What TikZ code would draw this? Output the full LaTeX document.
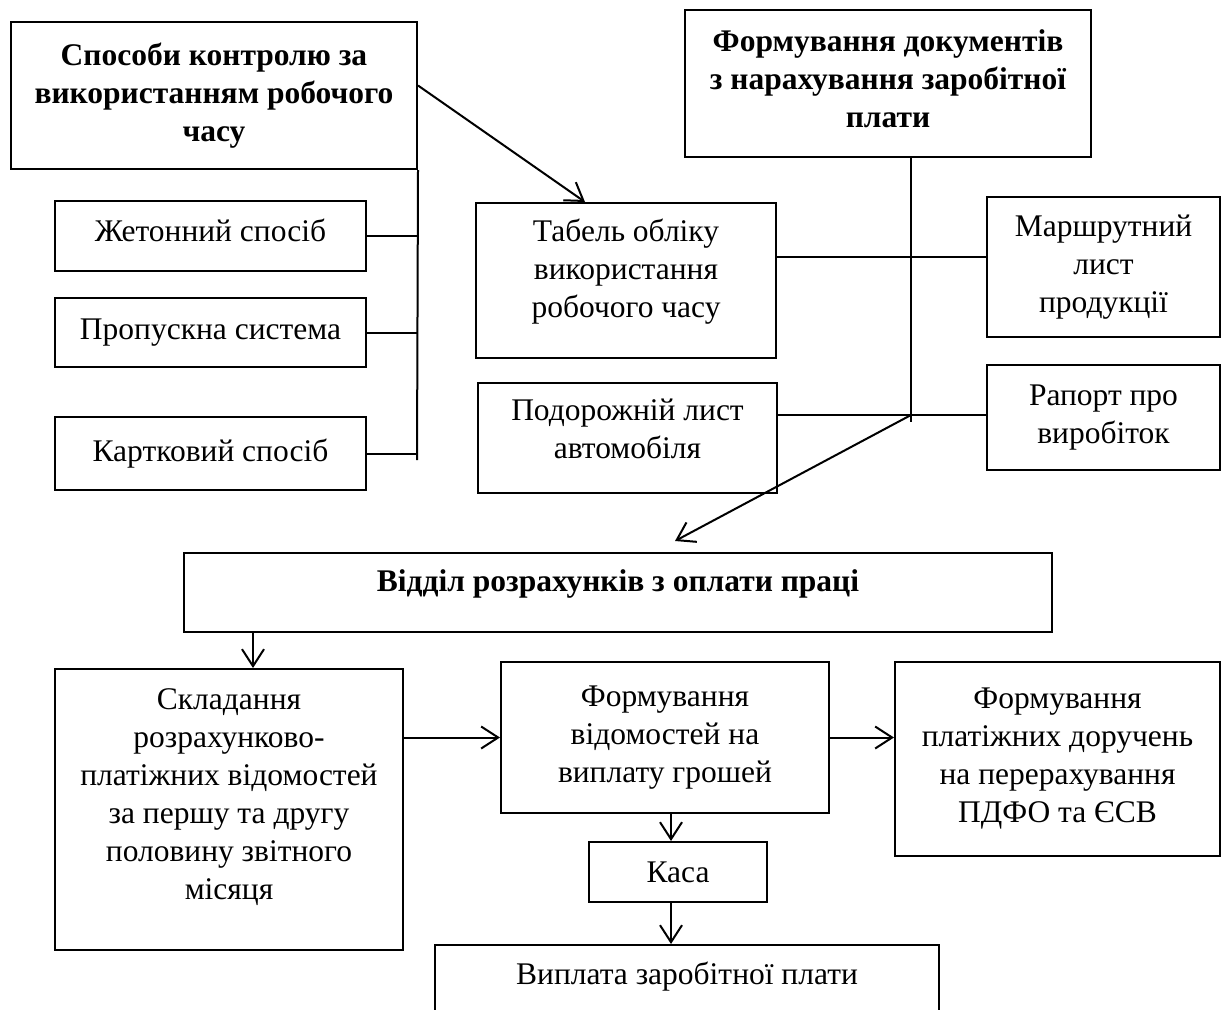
\documentclass[tikz,border=0pt]{standalone}
\usepackage{fontspec}
\setmainfont{Liberation Serif}
\usetikzlibrary{arrows.meta}

\begin{document}
\begin{tikzpicture}[x=1pt,y=-1pt,line width=2pt,>={Straight Barb[length=17pt,width=22pt]}]
\tikzstyle{blok}=[rectangle,draw,align=center,inner sep=2pt,font=\fontsize{31.5}{38}\selectfont]
\tikzstyle{gol}=[blok,font=\fontsize{31.5}{38}\selectfont\bfseries]
\clip (0,0) rectangle (1222,1009);
\fill[white] (0,0) rectangle (1222,1009);

\node[gol,minimum width=406pt,minimum height=147pt](sposoby) at (214,95.5) {Способи контролю за\\використанням робочого\\часу};
\node[gol,minimum width=406pt,minimum height=147pt,text depth=10pt](formuv) at (888,83.5) {Формування документів\\з нарахування заробітної\\плати};
\node[blok,minimum width=311pt,minimum height=70pt,text depth=12pt](zheton) at (210.5,236) {Жетонний спосіб};
\node[blok,minimum width=311pt,minimum height=69pt](propusk) at (210.5,332.5) {Пропускна система};
\node[blok,minimum width=311pt,minimum height=73pt](kartka) at (210.5,453.5) {Картковий спосіб};
\node[blok,minimum width=300pt,minimum height=155pt,text depth=25pt](tabel) at (626,280.5) {Табель обліку\\використання\\робочого часу};
\node[blok,minimum width=299pt,minimum height=110pt,text depth=18pt](podoroz) at (627.5,438) {Подорожній лист\\автомобіля};
\node[blok,minimum width=233pt,minimum height=140pt](marshrut) at (1103.5,267) {Маршрутний\\лист\\продукції};
\node[blok,minimum width=233pt,minimum height=105pt](raport) at (1103.5,417.5) {Рапорт про\\виробіток};
\node[gol,minimum width=868pt,minimum height=79pt,text depth=23pt](viddil) at (618,592.5) {Відділ розрахунків з оплати праці};
\node[blok,minimum width=348pt,minimum height=281pt,text depth=30pt](sklad) at (229,809.5) {Складання\\розрахунково-\\платіжних відомостей\\за першу та другу\\половину звітного\\місяця};
\node[blok,minimum width=328pt,minimum height=151pt](vidom) at (665,737.5) {Формування\\відомостей на\\виплату грошей};
\node[blok,minimum width=325pt,minimum height=194pt](plat) at (1057.5,759) {Формування\\платіжних доручень\\на перерахування\\ПДФО та ЄСВ};
\node[blok,minimum width=178pt,minimum height=60pt](kasa) at (678,872) {Каса};
\node[blok,minimum width=504pt,minimum height=74pt,text depth=17pt](vyplata) at (687,982) {Виплата заробітної плати};

\coordinate (lb) at (417,460);
\coordinate (j1) at (911,257);
\coordinate (j2) at (911,415);
\coordinate (rb) at (911,422);

\draw (sposoby.south east) -- (lb);
\draw (zheton.east) -- (zheton.east -| lb);
\draw (propusk.east) -- (propusk.east -| lb);
\draw (kartka.east) -- (kartka.east -| lb);
\draw[->] ([yshift=10pt]sposoby.east) -- ([xshift=-41pt]tabel.north);

\draw (formuv.south -| rb) -- (rb);
\draw (tabel.east |- j1) -- (j1 -| marshrut.west);
\draw (podoroz.east |- j2) -- (j2 -| raport.west);
\draw[->] (j2) -- ([xshift=57pt,yshift=11pt]viddil.north);

\draw[->] ([xshift=24pt]sklad.north |- viddil.south) -- ([xshift=24pt]sklad.north);
\draw[->] (vidom.west -| sklad.east) -- (vidom.west);
\draw[->] (vidom.east) -- (vidom.east -| plat.west);
\draw[->] ([xshift=-7pt]kasa.north |- vidom.south) -- ([xshift=-7pt]kasa.north);
\draw[->] ([xshift=-7pt]kasa.south) -- ([xshift=-7pt]kasa.south |- vyplata.north);
\end{tikzpicture}
\end{document}
